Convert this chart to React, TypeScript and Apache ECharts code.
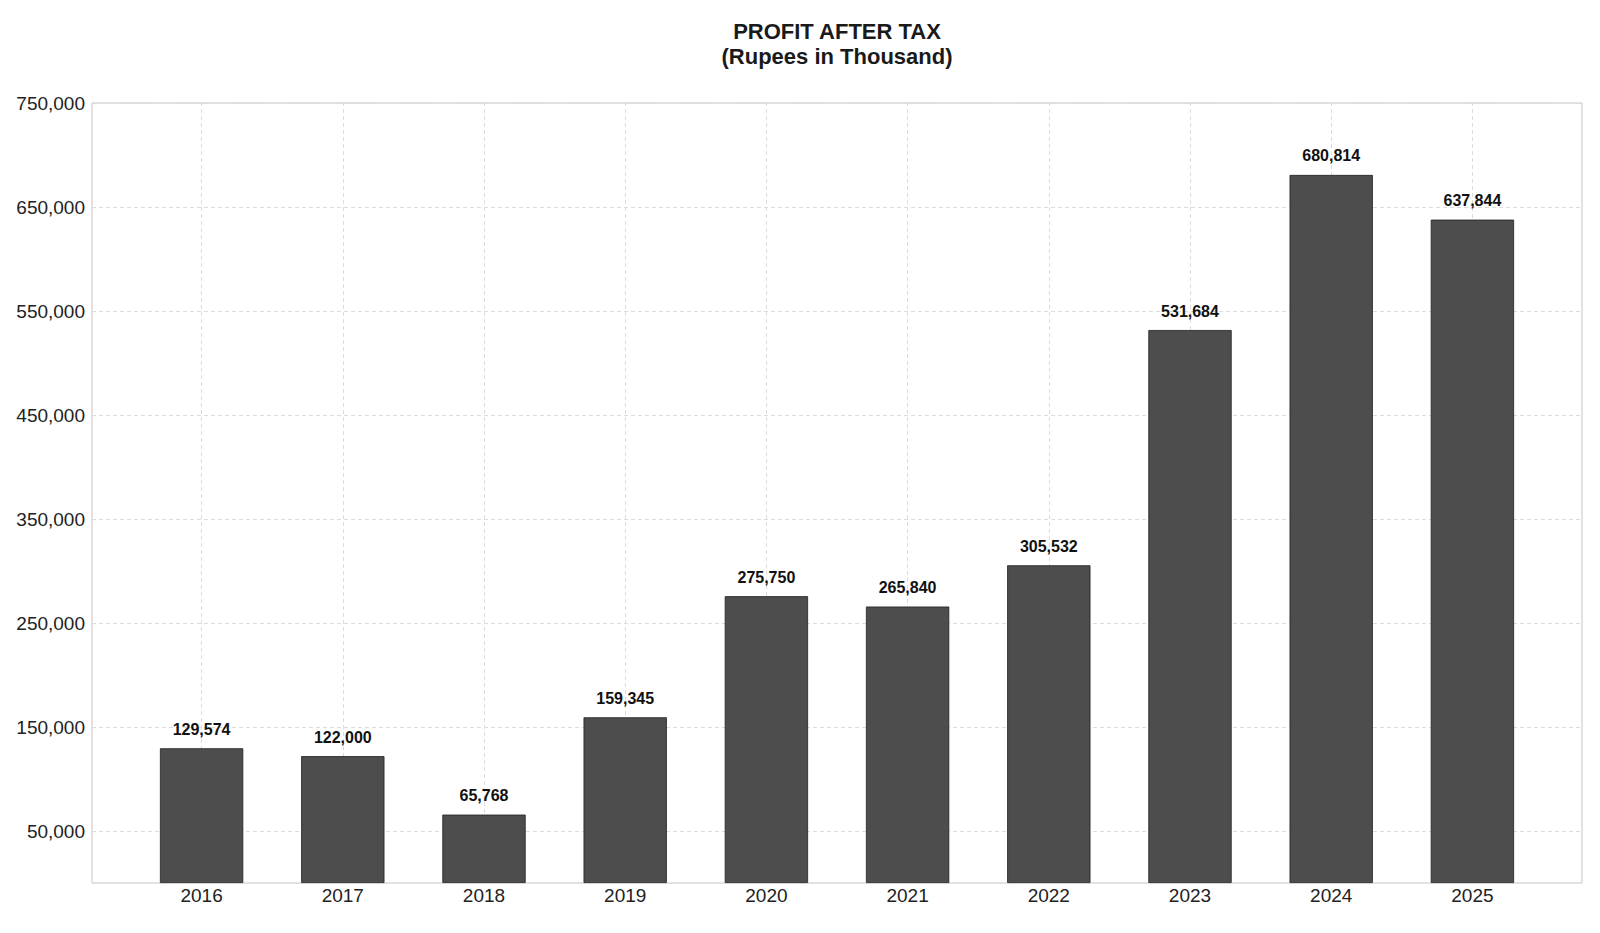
import React, { useEffect, useRef } from "react";
import * as echarts from "echarts";

// Fiscal years and profit after tax (Rupees in thousand)
const years = ["2016", "2017", "2018", "2019", "2020", "2021", "2022", "2023", "2024", "2025"];
const profitAfterTax = [129574, 122000, 65768, 159345, 275750, 265840, 305532, 531684, 680814, 637844];

// Value axis range; labels are shown on the odd 50,000 steps
const yMin = 0;
const yMax = 750000;
const yStep = 50000;

const titleText = "PROFIT AFTER TAX\n(Rupees in Thousand)";

const FONT = "'Liberation Sans', Arial, Helvetica, sans-serif";
const GRID_COLOR = "#dcdcdc";

const fmt = (v: number) => v.toLocaleString("en-US");

export default function App() {
  const ref = useRef<HTMLDivElement>(null);

  useEffect(() => {
    if (!ref.current) return;
    const chart = echarts.init(ref.current, undefined, { renderer: "svg" });

    const top = 103;
    const bottom = 50;

    chart.setOption({
      animation: false,
      backgroundColor: "#ffffff",
      textStyle: { fontFamily: FONT },
      graphic: [
        {
          type: "text",
          x: 837,
          y: 19,
          silent: true,
          style: {
            text: titleText,
            align: "center",
            verticalAlign: "top",
            fontFamily: FONT,
            fontSize: 22,
            fontWeight: "bold",
            lineHeight: 25,
            fill: "#1a1a1a",
          },
        },
      ],
      grid: [
        // framed plot area carrying the value axis and horizontal grid lines
        {
          left: 92,
          right: 18,
          top,
          bottom,
          show: true,
          borderColor: "#c4c4c4",
          borderWidth: 1,
          backgroundColor: "transparent",
          containLabel: false,
        },
        // inner area where the category bands sit
        {
          left: 131,
          right: 57,
          top,
          bottom,
          containLabel: false,
        },
      ],
      xAxis: [
        { type: "value", gridIndex: 0, show: false, min: 0, max: 1 },
        {
          type: "category",
          gridIndex: 1,
          data: years,
          boundaryGap: true,
          axisLine: { show: false },
          axisTick: { show: false },
          splitLine: { show: false },
          axisLabel: {
            fontFamily: FONT,
            fontSize: 19,
            color: "#222222",
            margin: 3,
          },
        },
      ],
      yAxis: [
        {
          type: "value",
          gridIndex: 0,
          min: yMin,
          max: yMax,
          interval: yStep,
          axisLine: { show: false },
          axisTick: { show: false },
          axisLabel: {
            fontFamily: FONT,
            fontSize: 19,
            color: "#222222",
            margin: 7,
            formatter: (v: number) => (v % 100000 === 50000 ? fmt(v) : ""),
          },
          splitLine: {
            show: true,
            lineStyle: {
              color: ["rgba(0,0,0,0)", GRID_COLOR],
              type: [4, 3],
              width: 1,
            },
          },
        },
        {
          type: "value",
          gridIndex: 1,
          min: yMin,
          max: yMax,
          show: false,
          splitLine: { show: false },
        },
      ],
      series: [
        {
          type: "bar",
          name: "Profit after tax",
          xAxisIndex: 1,
          yAxisIndex: 1,
          data: profitAfterTax,
          barWidth: "59%",
          z: 2,
          itemStyle: {
            color: "#4d4d4d",
            borderColor: "#1f1f1f",
            borderWidth: 0.8,
          },
          label: {
            show: true,
            position: "top",
            distance: 11,
            fontFamily: FONT,
            fontSize: 16,
            fontWeight: "bold",
            color: "#111111",
            formatter: (p: any) => fmt(p.value),
          },
          markLine: {
            silent: true,
            z: 1,
            symbol: "none",
            label: { show: false },
            emphasis: { disabled: true },
            lineStyle: { color: GRID_COLOR, type: [4, 3], width: 1 },
            data: years.map((y) => ({ xAxis: y })),
          },
        },
      ],
    });

    return () => chart.dispose();
  }, []);

  return (
    <div
      ref={ref}
      style={{ position: "fixed", left: 0, top: 0, width: 1600, height: 933 }}
    />
  );
}
